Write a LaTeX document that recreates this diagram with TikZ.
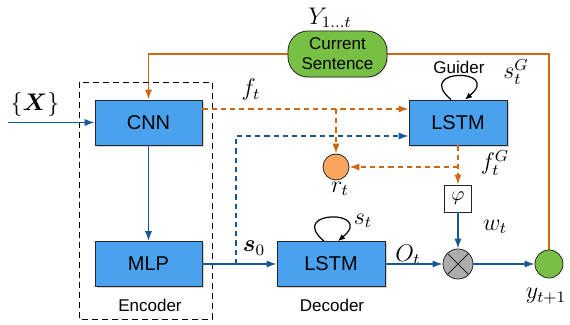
\documentclass[tikz,border=0pt]{standalone}
\usepackage{amsmath,amssymb}
\usepackage{fontspec}
\setsansfont{Liberation Sans}
\usepackage{tikz}
\usetikzlibrary{shapes,arrows,positioning,calc,arrows.meta,shadows,backgrounds}

\definecolor{boxblue}{RGB}{74,161,238}
\definecolor{lineblue}{RGB}{26,86,150}
\definecolor{lineorange}{RGB}{206,104,20}
\definecolor{dotorange}{RGB}{248,166,96}
\definecolor{sentgreen}{RGB}{120,192,68}

\tikzset{
  block/.style={draw=black!85, fill=boxblue, minimum height=22.5pt, inner sep=0pt,
    font=\sffamily\fontsize{10}{12}\selectfont,
    drop shadow={opacity=0.35, shadow xshift=0.8pt, shadow yshift=-0.8pt}},
  sentbox/.style={draw=black!85, fill=sentgreen, rounded corners=10pt, align=center,
    minimum width=49.5pt, minimum height=23pt, inner sep=0pt,
    font=\sffamily\fontsize{8.5}{10}\selectfont,
    drop shadow={opacity=0.3, shadow xshift=0.6pt, shadow yshift=-0.6pt}},
  dot/.style={circle, draw=black!85, inner sep=0pt},
  flow/.style={draw=lineblue, line width=0.75pt, -{Latex[length=5pt,width=3.6pt]}},
  guide/.style={draw=lineorange, line width=0.75pt, -{Latex[length=5pt,width=3.6pt]}},
  dashline/.style={dash pattern=on 2.6pt off 2pt},
  selfloop/.style={draw=black, line width=0.6pt, -{Latex[length=3.5pt,width=3pt]}},
  caption/.style={font=\sffamily\fontsize{8.5}{10}\selectfont},
  mathlab/.style={font=\large, inner sep=1pt}
}

\begin{document}
\begin{tikzpicture}[x=0.5pt,y=-0.5pt]
    \useasboundingbox (0,0) rectangle (570,325);

    % encoder frame
    \draw[line width=0.45pt, dash pattern=on 3pt off 2pt] (79,82) rectangle (212,319);

    \node[block, minimum width=53.5pt] (cnn) at (148.5,122.5) {CNN};
    \node[block, minimum width=53.5pt] (mlp) at (148.5,264) {MLP};
    \node[block, minimum width=54pt] (lstmd) at (331,264) {LSTM};
    \node[block, minimum width=49pt] (lstmg) at (458,122.5) {LSTM};
    \node[sentbox] (sent) at (337.5,54) {Current\\Sentence};

    \node[dot, fill=dotorange, minimum size=13pt] (rt) at (336,167) {};
    \node[draw=black!85, fill=white, minimum size=13.5pt, inner sep=0pt] (phi) at (458,198.5) {$\varphi$};
    \node[dot, fill=black!32, minimum size=15pt] (mult) at (458,264) {};
    \node[dot, fill=sentgreen, minimum size=14pt] (yout) at (549,264) {};

    % labels
    \node[mathlab] (xlab) at (35,105) {$\{\boldsymbol{X}\}$};
    \node[mathlab] (ylab) at (330,18) {$Y_{1\ldots t}$};
    \node[mathlab] (flab) at (251,90) {$f_t$};
    \node[mathlab] (sglab) at (516,72) {$s_t^G$};
    \node[caption] (guider) at (459,67) {Guider};
    \node[mathlab] (s0lab) at (254,248) {$\boldsymbol{s}_0$};
    \node[mathlab] (rlab) at (340,189) {$r_t$};
    \node[mathlab] (fglab) at (495,163) {$f_t^G$};
    \node[mathlab] (wlab) at (495,227) {$w_t$};
    \node[mathlab] (slab) at (363,221) {$s_t$};
    \node[mathlab] (olab) at (408,255) {$O_t$};
    \node[mathlab] (ylabout) at (546,296) {$y_{t+1}$};
    \node[caption] (enc) at (150,305) {Encoder};
    \node[caption] (dec) at (332,305) {Decoder};

    % sentence feedback
    \begin{scope}[on background layer]
        \draw[guide] (yout.north) |- (sent.center) -| (cnn.north);
    \end{scope}

    % main flow
    \coordinate (xin) at (8,122.5);
    \draw[flow] (xin) -- (cnn.west);
    \draw[flow] (cnn) -- (mlp);
    \draw[flow] (mlp) -- (lstmd);
    \draw[flow] (lstmd) -- (mult);
    \draw[flow] (phi) -- (mult);
    \draw[flow] (mult) -- (yout);
    \draw[black!85, line width=0.5pt] (mult.north west) -- (mult.south east);
    \draw[black!85, line width=0.5pt] (mult.north east) -- (mult.south west);

    % guider inputs
    \coordinate (split) at (236,264);
    \coordinate (fsplit) at (336,109);
    \coordinate (gsplit) at (458,167);
    \draw[flow, dashline] (split) |- ([yshift=-6.75pt]lstmg.west);
    \draw[guide, dashline] ([yshift=6.75pt]cnn.east) -- ([yshift=6.75pt]lstmg.west);
    \draw[guide, dashline] (fsplit) -- (rt);
    \draw[guide, dashline] (lstmg) -- (phi);
    \draw[guide, dashline] (gsplit) -- (rt);

    % recurrences
    \draw[selfloop] ([xshift=-3.5pt]lstmd.north) to[out=140,in=40,looseness=9] ([xshift=3.5pt]lstmd.north);
    \draw[selfloop] ([xshift=-3.5pt]lstmg.north) to[out=140,in=40,looseness=9] ([xshift=3.5pt]lstmg.north);
\end{tikzpicture}
\end{document}
